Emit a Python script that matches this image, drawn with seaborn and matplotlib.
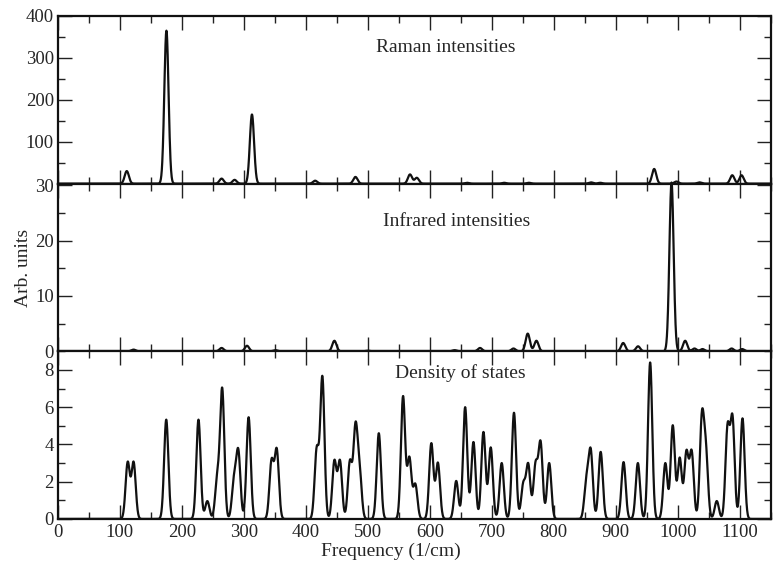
import numpy as np
import pandas as pd
import seaborn as sns
import matplotlib
matplotlib.use('Agg')
import matplotlib.pyplot as plt
from matplotlib.ticker import MultipleLocator, FixedLocator

# Peak positions (1/cm) and heights
raman_pos = [111, 175, 264, 285, 313, 415, 480, 568, 579, 660, 720, 760,
             860, 875, 962, 998, 1035, 1088, 1103]
raman_h = [30, 365, 12, 9, 165, 7, 16, 22, 14, 2, 2, 2,
           3, 2, 35, 5, 3, 20, 20]

ir_pos = [122, 264, 305, 351, 446, 500, 640, 681, 735, 758, 772, 912, 936,
          990, 1012, 1027, 1040, 1087, 1104]
ir_h = [0.3, 0.6, 1.0, 0.2, 1.9, 0.1, 0.2, 0.6, 0.5, 3.2, 1.9, 1.5, 0.9,
        30.5, 1.9, 0.5, 0.4, 0.5, 0.4]

dos_pos = [112.5, 122, 174.7, 226.7, 241, 257, 265, 284, 291, 307.6, 344.6,
           353, 417.5, 426.6, 446, 455, 471, 480, 486.6, 517.7, 556.8, 567,
           576.6, 602.4, 613, 642.6, 657, 670.4, 686.5, 698.3, 716, 735.8,
           750.8, 758.8, 770.6, 778.7, 792.6, 852.6, 859.6, 875.7, 912.6,
           935.7, 955.5, 980, 992, 1003.2, 1014, 1022.5, 1039, 1045.5, 1063,
           1080.4, 1088.4, 1104.5]
dos_h = [3.08, 3.08, 5.33, 5.33, 0.96, 2.55, 7.05, 2.4, 3.77, 5.46, 3.24,
         3.8, 3.9, 7.68, 3.17, 3.17, 3.17, 5.2, 3.17, 4.6, 6.6, 3.35, 1.9,
         4.07, 3.03, 2.04, 6.0, 4.13, 4.67, 3.84, 3.0, 5.7, 2.0, 3.0, 3.1,
         4.2, 3.0, 2.35, 3.8, 3.6, 3.05, 3.0, 8.4, 3.0, 5.03, 3.3, 3.7, 3.7,
         5.8, 4.2, 0.96, 5.15, 5.6, 5.4]

panel_titles = ['Raman intensities', 'Infrared intensities', 'Density of states']

SIGMA = 3.4
freq = np.linspace(0, 1150, 4601)


def broaden(pos, heights):
    # gaussian broadening; amplitudes chosen so the curve hits the read heights
    pos = np.asarray(pos, float)
    h = np.asarray(heights, float)
    G = np.exp(-(pos[:, None] - pos[None, :]) ** 2 / (2 * SIGMA ** 2))
    amp = np.clip(np.linalg.solve(G, h), 0, None)
    return (amp[None, :] * np.exp(-(freq[:, None] - pos[None, :]) ** 2 / (2 * SIGMA ** 2))).sum(axis=1)


spectra = pd.DataFrame({
    'freq': freq,
    'raman': broaden(raman_pos, raman_h),
    'ir': broaden(ir_pos, ir_h),
    'dos': broaden(dos_pos, dos_h),
})

sns.set_theme(style='ticks')
plt.rcParams['font.family'] = ['Liberation Serif', 'DejaVu Serif']
plt.rcParams['axes.linewidth'] = 1.6

fig, axes = plt.subplots(3, 1, figsize=(7.73, 5.61), dpi=100, sharex=True)
fig.subplots_adjust(left=0.075, right=0.997, top=0.9715, bottom=0.075, hspace=0)

cols = ['raman', 'ir', 'dos']
ylims = [(0, 400), (0, 30.3), (0, 9)]
majors = [[100, 200, 300, 400], [0, 10, 20, 30], [0, 2, 4, 6, 8]]
minors = [50, 5, 1]
text_xy = [(625, 324), (644, 23.5), (650, 7.84)]

for i, ax in enumerate(axes):
    sns.lineplot(data=spectra, x='freq', y=cols[i], ax=ax, color='#111111',
                 linewidth=1.6, estimator=None, clip_on=(i != 1))
    ax.set_xlim(0, 1150)
    ax.set_ylim(*ylims[i])
    ax.yaxis.set_major_locator(FixedLocator(majors[i]))
    ax.yaxis.set_minor_locator(MultipleLocator(minors[i]))
    ax.xaxis.set_major_locator(MultipleLocator(100))
    ax.xaxis.set_minor_locator(MultipleLocator(50))
    ax.tick_params(which='both', direction='in', top=True, right=True,
                   labelsize=13.5, width=1.0, color='#222222')
    ax.tick_params(which='major', length=10, pad=3)
    ax.tick_params(which='minor', length=5)
    ax.set_xlabel('')
    ax.set_ylabel('')
    for s in ax.spines.values():
        s.set_color('#111111')
    ax.text(text_xy[i][0], text_xy[i][1], panel_titles[i], ha='center',
            va='center', fontsize=14)

axes[1].set_ylabel('Arb. units', fontsize=14, labelpad=2)
axes[2].tick_params(axis='x', which='major', pad=4)
fig.text(391 / 773, 1 - 551 / 561, 'Frequency (1/cm)', ha='center', va='center',
         fontsize=14)

plt.savefig('out.png', dpi=100)
